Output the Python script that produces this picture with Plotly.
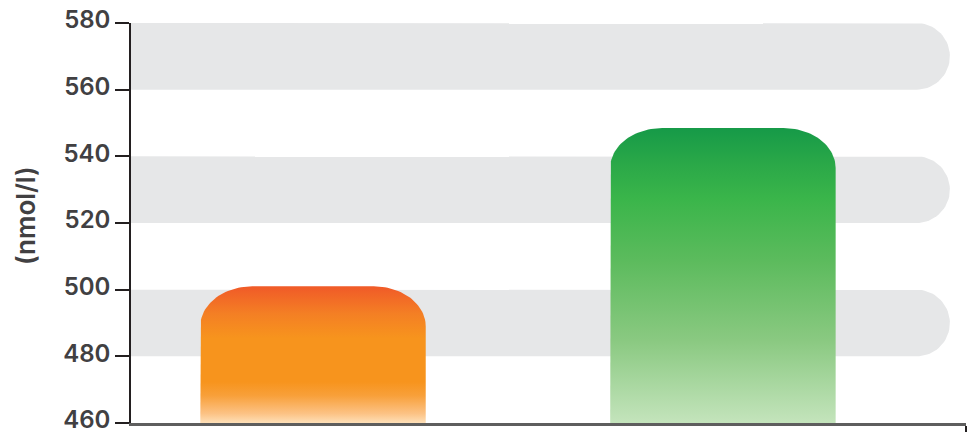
import numpy as np
import plotly.graph_objects as go

# --- data ---
categories = ["A", "B"]
values = [501, 548.5]
bands = [(480, 500), (520, 540), (560, 580)]
y_ticks = [460, 480, 500, 520, 540, 560, 580]
y_title = "(nmol/l)"

# --- styling ---
W, H = 970, 432
margin = dict(l=131, r=4, t=23, b=9)
y_range = [460, 580]
x_range = [-0.444, 1.593]
bar_half = 0.275
bar_corner_px = (52, 40)       # rx, ry of rounded top corners (px)
band_cap_px = 33.3             # radius of band's rounded right end (px)
band_end = 1.5537              # right end of the bands (x data units)
font_family = "Inter"
text_color = "#414042"

plot_w = W - margin["l"] - margin["r"]
plot_h = H - margin["t"] - margin["b"]
px_x = plot_w / (x_range[1] - x_range[0])
px_y = plot_h / (y_range[1] - y_range[0])

gradients = [
    [[0.0, "#FEE0B8"], [0.07, "#FCC284"], [0.2, "#F8A03A"], [0.3, "#F7941D"],
     [0.62, "#F7941D"], [0.8, "#F47F24"], [1.0, "#F05A28"]],
    [[0.0, "#C4E4BC"], [0.28, "#8AC981"], [0.55, "#5CBB5D"], [0.76, "#3AB54A"],
     [0.88, "#2AA848"], [1.0, "#169A48"]],
]


def rounded_top_bar(xc, top, base):
    rx = bar_corner_px[0] / px_x
    ry = bar_corner_px[1] / px_y
    left, right = xc - bar_half, xc + bar_half
    t = np.linspace(0, np.pi / 2, 30)
    # left corner: from side up to top
    lx = left + rx - rx * np.cos(t)
    ly = top - ry + ry * np.sin(t)
    # right corner: from top down to side
    rxs = right - rx + rx * np.sin(t)
    rys = top - ry + ry * np.cos(t)
    xs = [left] + list(lx) + list(rxs) + [right, left]
    ys = [base] + list(ly) + list(rys) + [base, base]
    return xs, ys


def band_path(lo, hi):
    rx = band_cap_px / px_x
    ry = (hi - lo) / 2
    cx = band_end - rx
    cy = (hi + lo) / 2
    t = np.linspace(np.pi / 2, -np.pi / 2, 40)
    xs = [x_range[0]] + list(cx + rx * np.cos(t)) + [x_range[0], x_range[0]]
    ys = [hi] + list(cy + ry * np.sin(t)) + [lo, hi]
    return xs, ys


fig = go.Figure()

for lo, hi in bands:
    bx, by = band_path(lo, hi)
    fig.add_trace(go.Scatter(
        x=bx, y=by, mode="lines", fill="toself", fillcolor="#E6E7E8",
        line=dict(width=0), hoverinfo="skip", showlegend=False))

for i, (cat, val) in enumerate(zip(categories, values)):
    xs, ys = rounded_top_bar(i, val, y_range[0])
    fig.add_trace(go.Scatter(
        x=xs, y=ys, mode="lines", fill="toself", name=cat,
        fillgradient=dict(type="vertical", colorscale=gradients[i]),
        line=dict(width=0), hoverinfo="skip", showlegend=False))

label_font = dict(size=24, family=font_family, color=text_color, weight=600)
title_font = dict(size=26, family=font_family, color=text_color, weight=600)

fig.update_layout(
    width=W, height=H, margin=margin,
    paper_bgcolor="white", plot_bgcolor="white",
    font=dict(family=font_family, color=text_color, size=24),
    xaxis=dict(
        range=x_range, showgrid=False, zeroline=False, automargin=False,
        showline=True, linecolor="#5E5E5E", linewidth=2.5,
        tickmode="array", tickvals=[x_range[1]], ticktext=[""],
        ticks="outside", ticklen=10, tickwidth=1.5, tickcolor="#231F20",
        fixedrange=True),
    yaxis=dict(
        range=y_range, showgrid=False, zeroline=False, automargin=False,
        showline=True, linecolor="#231F20", linewidth=1.5,
        tickmode="array", tickvals=y_ticks, ticklabeloverflow="allow",
        ticklabelshift=-3,
        ticks="outside", ticklen=14, tickwidth=1.5, tickcolor="#231F20",
        tickfont=label_font, fixedrange=True),
    annotations=[dict(
        text=y_title, textangle=-90, font=title_font, showarrow=False,
        xref="paper", yref="paper", x=-0.127, y=0.52,
        xanchor="center", yanchor="middle")],
)

fig.write_html("out.html")
